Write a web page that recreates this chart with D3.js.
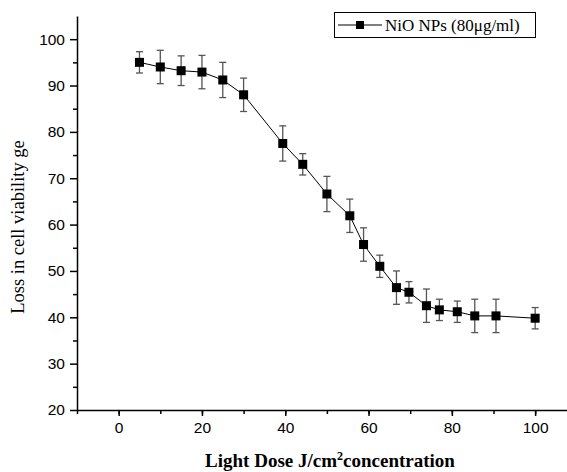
<!DOCTYPE html>
<html>
<head>
<meta charset="utf-8">
<script src="https://cdn.jsdelivr.net/npm/d3@7"></script>
<style>
  body { margin: 0; background: #fff; }
  .tick text { font-family: "Liberation Sans", Arial, sans-serif; font-size: 15.5px; fill: #000; }
</style>
</head>
<body>
<div id="vis"></div>
<script>
// light dose (J/cm2) and loss in viability with error
var doses = [5, 10, 15, 20, 25, 30, 39.4, 44.2, 50, 55.5, 58.8, 62.7, 66.7, 69.7, 73.9, 77, 81.3, 85.5, 90.6, 100];
var loss = [95.0, 94.0, 93.2, 92.9, 91.2, 88.0, 77.5, 73.0, 66.6, 61.9, 55.7, 51.0, 46.4, 45.4, 42.5, 41.6, 41.2, 40.3, 40.3, 39.8];
var errs = [2.3, 3.6, 3.2, 3.6, 3.8, 3.6, 3.8, 2.3, 3.8, 3.6, 3.6, 2.4, 3.6, 2.3, 3.6, 2.3, 2.3, 3.6, 3.6, 2.3];
var xTicks = [0, 20, 40, 60, 80, 100];
var yTicks = [20, 30, 40, 50, 60, 70, 80, 90, 100];
var seriesName = "NiO NPs (80\u03bcg/ml)";

var width = 567, height = 472;
var margin = { top: 16, left: 77, bottom: 62, right: 0 };

var svg = d3.select("#vis").append("svg")
    .attr("width", width)
    .attr("height", height);

var x = d3.scaleLinear().domain([-10, 110]).range([margin.left, margin.left + 120 * 4.165]);
var y = d3.scaleLinear().domain([20, 105]).range([height - margin.bottom, margin.top]);

// minor ticks first
svg.append("g")
    .attr("transform", "translate(0," + y(20) + ")")
    .call(d3.axisBottom(x).tickValues(d3.range(-10, 111, 10)).tickSize(4).tickFormat(""))
    .call(function(g) { g.select(".domain").remove(); });
svg.append("g")
    .attr("transform", "translate(" + margin.left + ",0)")
    .call(d3.axisLeft(y).tickValues(d3.range(25, 105, 10)).tickSize(4).tickFormat(""))
    .call(function(g) { g.select(".domain").remove(); });

var xAxis = svg.append("g")
    .attr("transform", "translate(0," + y(20) + ")")
    .call(d3.axisBottom(x).tickValues(xTicks).tickSize(6).tickSizeOuter(0).tickPadding(6));
var yAxis = svg.append("g")
    .attr("transform", "translate(" + margin.left + ",0)")
    .call(d3.axisLeft(y).tickValues(yTicks).tickSize(7).tickSizeOuter(0).tickPadding(5));

svg.selectAll(".domain").attr("stroke", "#000").attr("stroke-width", 1.5);
svg.selectAll(".tick line").attr("stroke", "#000").attr("stroke-width", 1.5);

// connecting line
var line = d3.line().x(function(d, i) { return x(doses[i]); }).y(function(d) { return y(d); });
svg.append("path")
    .datum(loss)
    .attr("d", line)
    .attr("fill", "none")
    .attr("stroke", "#000")
    .attr("stroke-width", 1);

// error bars
var eb = svg.append("g").attr("stroke", "#555").attr("stroke-width", 1.3);
loss.forEach(function(v, i) {
    var cx = x(doses[i]);
    eb.append("line").attr("x1", cx).attr("x2", cx).attr("y1", y(v + errs[i])).attr("y2", y(v - errs[i]));
    eb.append("line").attr("x1", cx - 3.5).attr("x2", cx + 3.5).attr("y1", y(v + errs[i])).attr("y2", y(v + errs[i]));
    eb.append("line").attr("x1", cx - 3.5).attr("x2", cx + 3.5).attr("y1", y(v - errs[i])).attr("y2", y(v - errs[i]));
});

// markers
svg.selectAll(".pt")
    .data(loss)
    .enter().append("rect")
    .attr("class", "pt")
    .attr("x", function(d, i) { return x(doses[i]) - 4.5; })
    .attr("y", function(d) { return y(d) - 4.5; })
    .attr("width", 9)
    .attr("height", 9)
    .attr("fill", "#000");

// axis titles
svg.append("text")
    .attr("transform", "translate(24," + 227 + ") rotate(-90)")
    .attr("text-anchor", "middle")
    .style("font-family", "'Liberation Serif', 'Times New Roman', serif")
    .style("font-size", "18.5px")
    .text("Loss in cell viability ge");

var xl = svg.append("text")
    .attr("x", 330)
    .attr("y", 467)
    .attr("text-anchor", "middle")
    .style("font-family", "'Liberation Serif', 'Times New Roman', serif")
    .style("font-size", "19px")
    .style("font-weight", "bold");
xl.append("tspan").text("Light Dose J/cm");
xl.append("tspan").attr("dy", -7).style("font-size", "12px").text("2");
xl.append("tspan").attr("dy", 7).text("concentration");

// legend
var lg = svg.append("g");
lg.append("rect")
    .attr("x", 334.5).attr("y", 12.5).attr("width", 201).attr("height", 25)
    .attr("fill", "#fff").attr("stroke", "#000").attr("stroke-width", 1);
lg.append("line").attr("x1", 338).attr("x2", 382).attr("y1", 25).attr("y2", 25).attr("stroke", "#000");
lg.append("rect").attr("x", 356).attr("y", 21).attr("width", 8).attr("height", 8).attr("fill", "#000");
lg.append("text")
    .attr("x", 385).attr("y", 31)
    .style("font-family", "'Liberation Serif', 'Times New Roman', serif")
    .style("font-size", "17px")
    .text(seriesName);
</script>
</body>
</html>
